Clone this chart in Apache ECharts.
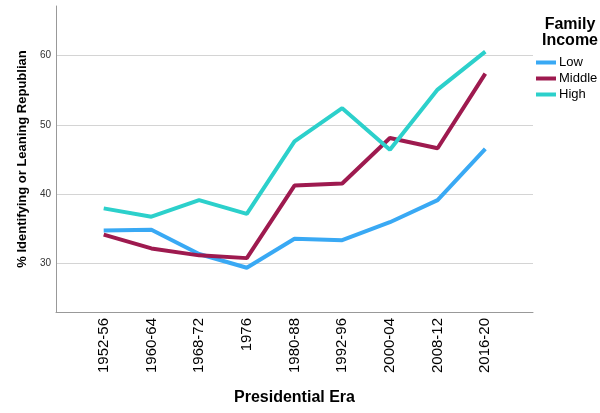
<!DOCTYPE html>
<html>
<head>
<meta charset="utf-8">
<script src="https://cdn.jsdelivr.net/npm/echarts@6/dist/echarts.min.js"></script>
<style>html,body{margin:0;padding:0;background:#fff}#c{width:600px;height:413px}</style>
</head>
<body>
<div id="c"></div>
<script>
var categories = ['1952-56','1960-64','1968-72','1976','1980-88','1992-96','2000-04','2008-12','2016-20'];
var lowValues = [34.7, 34.8, 31.3, 29.3, 33.5, 33.3, 35.9, 39.1, 46.5];
var middleValues = [34.1, 32.1, 31.1, 30.7, 41.2, 41.5, 48.1, 46.6, 57.4];
var highValues = [37.9, 36.7, 39.1, 37.1, 47.6, 52.4, 46.4, 55.1, 60.6];
var seriesNames = ['Low', 'Middle', 'High'];
var colors = ['#39A9F4', '#9E1A4F', '#2CD0CB'];

function pts(arr){ return arr.map(function(v,i){ return [i, v]; }); }

var chart = echarts.init(document.getElementById('c'), null, {renderer:'canvas'});
var font = '"Liberation Sans", Arial, sans-serif';
chart.setOption({
  animation: false,
  textStyle: {fontFamily: font},
  title: {
    text: 'Family\nIncome',
    left: 565, top: 12,
    textAlign: 'center',
    textStyle: {fontSize: 16, fontWeight: 'bold', color: '#000', lineHeight: 16, fontFamily: font}
  },
  legend: {
    orient: 'vertical',
    left: 531, top: 51,
    itemWidth: 20, itemHeight: 4,
    itemGap: 3,
    icon: 'rect',
    data: seriesNames,
    textStyle: {fontSize: 13, color: '#000', fontFamily: font, padding: [0,0,0,-2]}
  },
  grid: {left: 56, right: 67, top: 6, bottom: 101, containLabel: false},
  xAxis: {
    type: 'value',
    min: -1, max: 9, interval: 1,
    name: 'Presidential Era',
    nameLocation: 'middle',
    nameGap: 78,
    nameTextStyle: {fontSize: 16, fontWeight: 'bold', color: '#000', fontFamily: font},
    axisLine: {show: true, onZero: false, lineStyle: {color: '#999', width: 1}},
    axisTick: {show: false},
    splitLine: {show: false},
    axisLabel: {
      rotate: 90, fontSize: 15, color: '#000', margin: 6, fontFamily: font,
      showMinLabel: true, showMaxLabel: true,
      formatter: function(v){ return categories[v] || ''; }
    }
  },
  yAxis: {
    type: 'value',
    min: 22.9, max: 67.2,
    name: '% Identifying or Leaning Republian',
    nameLocation: 'middle',
    nameGap: 25,
    nameTextStyle: {fontSize: 13, fontWeight: 'bold', color: '#000', fontFamily: font},
    axisLine: {show: true, onZero: false, lineStyle: {color: '#999', width: 1}},
    axisTick: {show: false},
    splitLine: {show: true, showMinLine: false, showMaxLine: false, lineStyle: {color: '#d4d4d4', width: 1}},
    axisLabel: {
      fontSize: 10, color: '#333', margin: 5, fontFamily: font,
      showMinLabel: false, showMaxLabel: false,
      formatter: function(v){ return (Math.abs(v % 10) < 1e-9) ? String(v) : ''; }
    }
  },
  series: [
    {name: seriesNames[0], type: 'line', data: pts(lowValues), symbol: 'none', lineStyle: {width: 4, color: colors[0]}, itemStyle: {color: colors[0]}},
    {name: seriesNames[1], type: 'line', data: pts(middleValues), symbol: 'none', lineStyle: {width: 4, color: colors[1]}, itemStyle: {color: colors[1]}},
    {name: seriesNames[2], type: 'line', data: pts(highValues), symbol: 'none', lineStyle: {width: 4, color: colors[2]}, itemStyle: {color: colors[2]}}
  ]
});
</script>
</body>
</html>
